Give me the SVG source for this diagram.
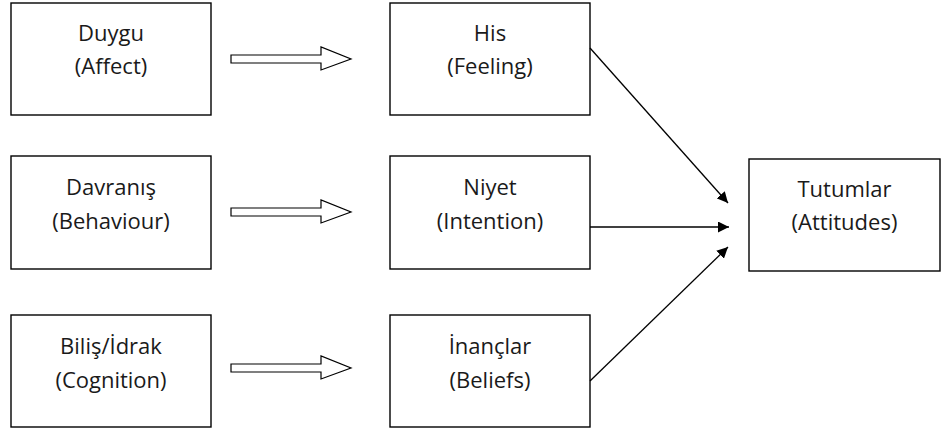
<svg xmlns="http://www.w3.org/2000/svg" width="943" height="432" viewBox="0 0 943 432">
<style>
.box{fill:#fff;stroke:#000;stroke-width:1.4}
.t{font-family:"Open Sans","Liberation Sans",sans-serif;font-size:22px;fill:#1a1a1a;text-anchor:middle}
.hol{fill:#fff;stroke:#000;stroke-width:1.2}
.ln{stroke:#000;stroke-width:1.3;fill:none}
</style>
<defs>
<marker id="ah" viewBox="0 0 10 10" refX="10" refY="5" markerWidth="11" markerHeight="11" markerUnits="userSpaceOnUse" orient="auto">
<path d="M0,0 L10,5 L0,10 z" fill="#000"/>
</marker>
</defs>
<rect width="943" height="432" fill="#fff"/>
<g id="duygu"><rect class="box" x="11" y="3" width="200" height="112"/><text class="t" x="111" y="41">Duygu</text><text class="t" x="111" y="74">(Affect)</text></g>
<g id="his"><rect class="box" x="390" y="3" width="200" height="112"/><text class="t" x="490" y="41">His</text><text class="t" x="490" y="74">(Feeling)</text></g>
<g id="davranis"><rect class="box" x="11" y="156" width="200" height="113"/><text class="t" x="111" y="195">Davranış</text><text class="t" x="111" y="229">(Behaviour)</text></g>
<g id="niyet"><rect class="box" x="390" y="156" width="200" height="113"/><text class="t" x="490" y="195">Niyet</text><text class="t" x="490" y="229">(Intention)</text></g>
<g id="bilis"><rect class="box" x="11" y="315" width="200" height="112"/><text class="t" x="111" y="354">Biliş/İdrak</text><text class="t" x="111" y="388">(Cognition)</text></g>
<g id="inanclar"><rect class="box" x="390" y="315" width="200" height="112"/><text class="t" x="490" y="354">İnançlar</text><text class="t" x="490" y="388">(Beliefs)</text></g>
<g id="tutumlar"><rect class="box" x="749" y="159" width="191" height="112"/><text class="t" x="844.5" y="197">Tutumlar</text><text class="t" x="844.5" y="230">(Attitudes)</text></g>
<g id="connectors">
<path class="hol" d="M231,55 H321 V47 L351,59 L321,70 V63 H231 Z"/>
<path class="hol" d="M231,208 H321 V200 L351,212 L321,223 V216 H231 Z"/>
<path class="hol" d="M231,364 H321 V356 L351,368 L321,379 V372 H231 Z"/>
<line class="ln" x1="590" y1="48" x2="728" y2="203" marker-end="url(#ah)"/>
<line class="ln" x1="590" y1="227" x2="729" y2="227" marker-end="url(#ah)"/>
<line class="ln" x1="590" y1="381" x2="728" y2="247" marker-end="url(#ah)"/>
</g>
</svg>
